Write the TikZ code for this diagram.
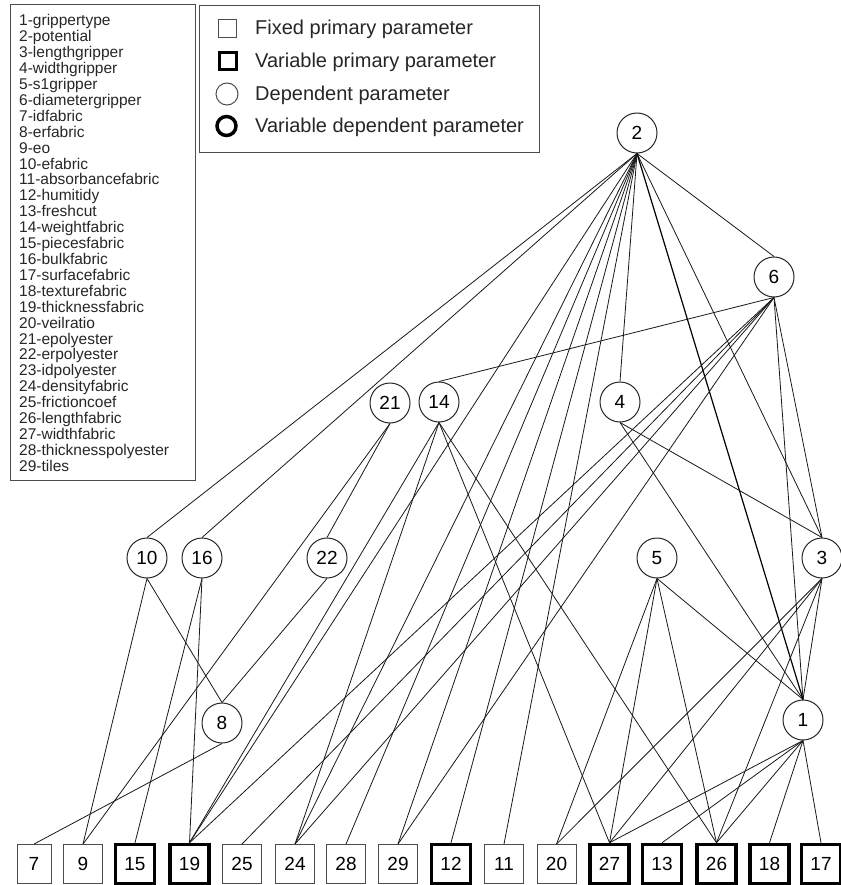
\documentclass[tikz,border=0pt]{standalone}
\usepackage{fontspec}
\setmainfont{Liberation Sans}
\begin{document}
\begin{tikzpicture}[x=1pt,y=-1pt,
  circ/.style={circle,draw=black!85,line width=1pt,minimum size=40pt,inner sep=0pt,fill=white,font=\fontsize{19}{19}\selectfont},
  fixbox/.style={rectangle,draw=black!70,line width=0.9pt,minimum width=39pt,minimum height=39pt,inner sep=0pt,fill=white,font=\fontsize{19}{19}\selectfont},
  varbox/.style={fixbox,draw=black,line width=3.5pt},
  edge/.style={line width=0.8pt,black!90},
  legtext/.style={anchor=base west,inner sep=0pt,font=\fontsize{15.5}{15.5}\selectfont,text=black!85},
  legtextb/.style={anchor=base west,inner sep=0pt,font=\fontsize{20}{20}\selectfont,text=black!85},
  frame/.style={draw=black!70,line width=1pt}]
\useasboundingbox (0,0) rectangle (840,885);

% legends
\node[frame,rectangle,minimum width=185pt,minimum height=476pt,anchor=north west,inner sep=0pt] (legL) at (10,4) {};
\foreach \t [count=\i] in {1-grippertype,2-potential,3-lengthgripper,4-widthgripper,5-s1gripper,6-diametergripper,7-idfabric,8-erfabric,9-eo,10-efabric,11-absorbancefabric,12-humitidy,13-freshcut,14-weightfabric,15-piecesfabric,16-bulkfabric,17-surfacefabric,18-texturefabric,19-thicknessfabric,20-veilratio,21-epolyester,22-erpolyester,23-idpolyester,24-densityfabric,25-frictioncoef,26-lengthfabric,27-widthfabric,28-thicknesspolyester,29-tiles}
  \node[legtext] (lg\i) at (19,{26+15.9*(\i-1)}) {\t};

\node[frame,rectangle,minimum width=340pt,minimum height=147pt,anchor=north west,inner sep=0pt] (legR) at (199,5) {};
\node[rectangle,draw=black!70,line width=1pt,minimum size=18pt,inner sep=0pt] (ic1) at (227.5,28.5) {};
\node[rectangle,draw=black,line width=3.5pt,minimum size=17pt,inner sep=0pt] (ic2) at (228,61) {};
\node[circle,draw=black!70,line width=1pt,minimum size=22pt,inner sep=0pt] (ic3) at (227,94) {};
\node[circle,draw=black,line width=3.5pt,minimum size=19pt,inner sep=0pt] (ic4) at (226.5,126) {};
\node[legtextb] (lt1) at (255,35) {Fixed primary parameter};
\node[legtextb] (lt2) at (255,68) {Variable primary parameter};
\node[legtextb] (lt3) at (255,101) {Dependent parameter};
\node[legtextb] (lt4) at (255,133) {Variable dependent parameter};

% circle nodes
\node[circ] (n2) at (637,133) {2};
\node[circ] (n6) at (774,277) {6};
\node[circ] (n21) at (390,403) {21};
\node[circ] (n14) at (439,402) {14};
\node[circ] (n4) at (620,402) {4};
\node[circ] (n10) at (147,558) {10};
\node[circ] (n16) at (202,558) {16};
\node[circ] (n22) at (327,558) {22};
\node[circ] (n5) at (657,558) {5};
\node[circ] (n3) at (822,558) {3};
\node[circ] (n8) at (222,723) {8};
\node[circ] (n1) at (803,720) {1};

% boxes
\node[fixbox,minimum width=34pt] (b7) at (34,864) {7};
\node[fixbox] (b9) at (83,864) {9};
\node[varbox] (b15) at (135,864) {15};
\node[varbox] (b19) at (189.5,864) {19};
\node[fixbox] (b25) at (242,864) {25};
\node[fixbox] (b24) at (295,864) {24};
\node[fixbox] (b28) at (346,864) {28};
\node[fixbox] (b29) at (398,864) {29};
\node[varbox] (b12) at (451,864) {12};
\node[fixbox] (b11) at (504,864) {11};
\node[fixbox] (b20) at (556.5,864) {20};
\node[varbox] (b27) at (609.5,864) {27};
\node[varbox] (b13) at (662,864) {13};
\node[varbox] (b26) at (716.5,864) {26};
\node[varbox] (b18) at (769.5,864) {18};
\node[varbox] (b17) at (821,864) {17};

% edges
\foreach \s/\d in {n2/n10,n2/n16,n2/n4,n2/n6,n2/n3,
  n6/n14,n6/n3,n6/n1,n21/n22,n4/n3,n4/n1,n10/n8,n22/n8,n5/n1,n3/n1}
  \draw[edge] (\s.south) -- (\d.north);
\draw[line width=1.2pt] (n2.south) -- (n1.north);
\foreach \s/\d in {n2/b19,n2/b24,n2/b28,n2/b29,n2/b12,n2/b11,
  n6/b19,n6/b25,n6/b24,n6/b29,
  n21/b9,n14/b19,n14/b24,n14/b27,n14/b26,
  n10/b9,n16/b15,n16/b19,n8/b7,
  n5/b20,n5/b27,n5/b26,
  n3/b20,n3/b27,n3/b26,
  n1/b27,n1/b13,n1/b26,n1/b18,n1/b17}
  \draw[edge] (\s.south) -- (\d.north);
\end{tikzpicture}
\end{document}
